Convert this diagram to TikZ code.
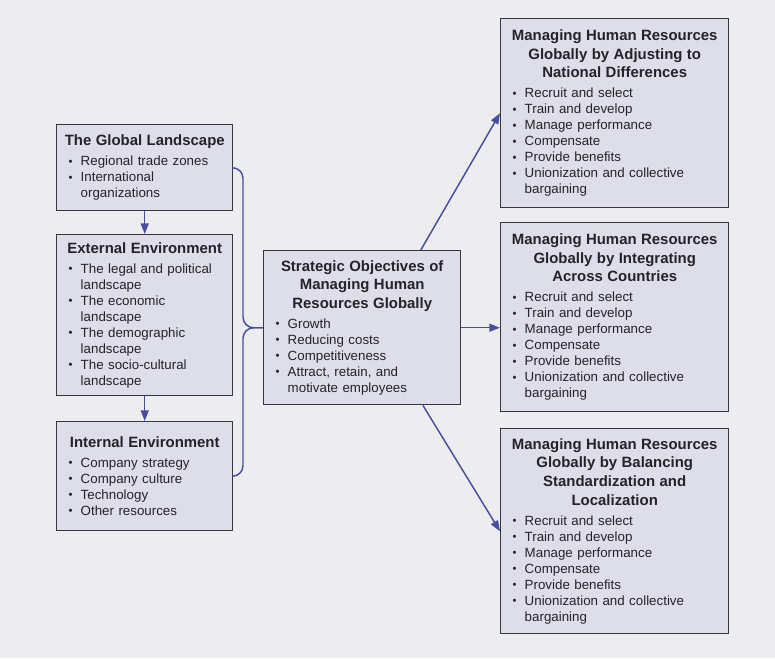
\documentclass[tikz,border=0pt]{standalone}
\usepackage{fontspec}
\setmainfont{Liberation Sans}
\usepackage{tikz}
\usetikzlibrary{arrows.meta}

\setlength{\parindent}{0pt}
\newcommand{\boxtitle}[1]{{\fontsize{11.2}{14}\selectfont\bfseries\centering #1\par}\vspace{3pt}}
\newcommand{\bitem}[1]{\par{\leftskip=1.3em\noindent\hspace*{-1.3em}\makebox[1.3em][l]{\hspace{0.4em}\raisebox{0.1ex}{\fontsize{8.5}{8.5}\selectfont\textbullet}}#1\par}}

\begin{document}
\begin{tikzpicture}[x=0.75pt,y=0.75pt,yscale=-1,xscale=1,
    panel/.style={draw={rgb, 255:red, 55; green, 55; blue, 60}, line width=1.1pt, fill={rgb, 255:red, 221; green, 222; blue, 233}, anchor=north west, inner xsep=5pt, inner ysep=0pt, align=left, text={rgb, 255:red, 35; green, 35; blue, 40}, font={\fontsize{10}{12}\selectfont}},
    link/.style={draw={rgb, 255:red, 72; green, 78; blue, 158}, line width=1.1pt},
    arr/.style={link, -{Triangle[length=8pt,width=6pt]}}]
    %set diagram left start at 0, and has height of 658
    \path[use as bounding box, fill={rgb, 255:red, 237; green, 237; blue, 240}] (0,0) rectangle (775,658);

    % Left column
    \node[panel, minimum width=132pt, minimum height=64.5pt, text width=122pt] (glob) at (56,124)
        {\boxtitle{The Global Landscape}\bitem{Regional trade zones}\bitem{International\\organizations}};
    \node[panel, minimum width=132pt, minimum height=120.75pt, text width=122pt] (ext) at (56,234)
        {\boxtitle{External Environment}\bitem{The legal and political\\landscape}\bitem{The economic\\landscape}\bitem{The demographic\\landscape}\bitem{The socio-cultural\\landscape}};
    \node[panel, minimum width=132pt, minimum height=81.75pt, text width=122pt] (int) at (56,421)
        {\boxtitle{Internal Environment}\bitem{Company strategy}\bitem{Company culture}\bitem{Technology}\bitem{Other resources}};

    % Centre
    \node[panel, minimum width=147.75pt, minimum height=115.5pt, text width=137.75pt] (strat) at (263,250)
        {\boxtitle{Strategic Objectives of\\Managing Human\\Resources Globally}\bitem{Growth}\bitem{Reducing costs}\bitem{Competitiveness}\bitem{Attract, retain, and\\motivate employees}};

    % Right column
    \node[panel, minimum width=171pt, minimum height=141.75pt, text width=161pt] (adj) at (500,18)
        {\boxtitle{Managing Human Resources\\Globally by Adjusting to\\National Differences}\bitem{Recruit and select}\bitem{Train and develop}\bitem{Manage performance}\bitem{Compensate}\bitem{Provide benefits}\bitem{Unionization and collective\\bargaining}};
    \node[panel, minimum width=171pt, minimum height=141.75pt, text width=161pt] (integ) at (500,222)
        {\boxtitle{Managing Human Resources\\Globally by Integrating\\Across Countries}\bitem{Recruit and select}\bitem{Train and develop}\bitem{Manage performance}\bitem{Compensate}\bitem{Provide benefits}\bitem{Unionization and collective\\bargaining}};
    \node[panel, minimum width=171pt, minimum height=153.75pt, text width=161pt] (bal) at (500,428)
        {\boxtitle{Managing Human Resources\\Globally by Balancing\\Standardization and\\Localization}\bitem{Recruit and select}\bitem{Train and develop}\bitem{Manage performance}\bitem{Compensate}\bitem{Provide benefits}\bitem{Unionization and collective\\bargaining}};

    % Connectors
    \draw[arr] (glob) -- (ext);
    \draw[arr] (ext) -- (int);
    \coordinate (knee) at ([xshift=-15pt]strat.west);
    \draw[link, rounded corners=8pt] (glob.east) -| (knee) -- (strat.west);
    \draw[link, rounded corners=8pt] (int.east) -| (knee) -- (strat.west);
    \draw[arr] (strat.53) -- (adj.west);
    \draw[arr] (strat.east) -- (strat.east -| integ.west);
    \draw[arr] (strat.-52) -- (bal.west);

\end{tikzpicture}
\end{document}
